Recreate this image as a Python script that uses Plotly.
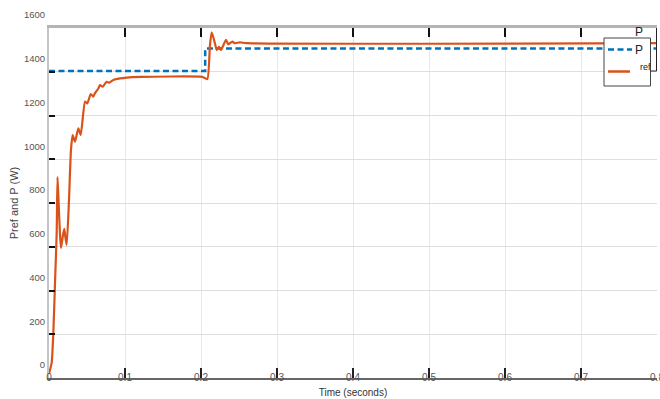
import plotly.graph_objects as go

# ---------------- data ----------------
t_p = [0.000, 0.0035, 0.0057, 0.0079, 0.0101, 0.0112, 0.0125, 0.0145, 0.0158, 0.0184,
       0.0201, 0.0217, 0.0233, 0.0263, 0.0289, 0.0311, 0.0342, 0.0386, 0.0417, 0.0474,
       0.0504, 0.0549, 0.0583, 0.0605, 0.0649, 0.0671, 0.0707, 0.0759, 0.0794, 0.0846,
       0.0934, 0.1022, 0.12, 0.2017, 0.2083, 0.2118, 0.2141, 0.2184, 0.2207, 0.2237,
       0.2263, 0.2329, 0.2359, 0.2412, 0.2447, 0.2513, 0.26, 0.8]
p = [-40, 10, 145, 375, 603, 859, 754, 594, 535, 594,
     622, 580, 549, 754, 983, 1051, 1021, 1082, 1051, 1204,
     1196, 1239, 1227, 1243, 1264, 1280, 1272, 1295, 1291, 1303,
     1310, 1314, 1317, 1317, 1307, 1463, 1521, 1470, 1440, 1454,
     1440, 1486, 1466, 1478, 1471, 1475, 1471, 1471]

t_ref = [0.0, 0.2055, 0.2055, 0.8]
p_ref = [1344, 1344, 1447, 1447]

x_ticks = [0, 0.1, 0.2, 0.3, 0.4, 0.5, 0.6, 0.7, 0.8]
x_ticktext = ["0", "0.1", "0.2", "0.3", "0.4", "0.5", "0.6", "0.7", "0.8"]
y_labels = [0, 200, 400, 600, 800, 1000, 1200, 1400, 1600]
grid_offset = 59.4  # gridlines in the reference sit below their labels
y_grid = [v - grid_offset for v in y_labels]
y_range = [y_grid[0], y_grid[-1]]

# ---------------- layout helpers ----------------
L, R, T, B = 49, 3, 28, 21
W, H = 660, 399
PW, PH = W - L - R, H - T - B


def px_x(px):
    return (px - L) / PW


def px_y(py):
    return (H - B - py) / PH


fig = go.Figure()
fig.add_trace(go.Scatter(x=t_ref, y=p_ref, mode="lines", name="P_ref",
                         line=dict(color="#0072BD", width=2.5, dash="6px,3.5px")))
fig.add_trace(go.Scatter(x=t_p, y=p, mode="lines", name="P",
                         line=dict(color="#D95319", width=2.2, shape="spline", smoothing=0.5)))
fig.add_trace(go.Scatter(x=[None], y=[None], xaxis="x2", showlegend=False, hoverinfo="skip"))

shapes = [
    # legend box
    dict(type="rect", xref="paper", yref="paper", x0=px_x(604), x1=px_x(650.5),
         y0=px_y(86), y1=px_y(38), line=dict(color="#444", width=1), fillcolor="white", layer="above"),
    dict(type="line", xref="paper", yref="paper", x0=px_x(608), x1=px_x(632),
         y0=px_y(49.5), y1=px_y(49.5), line=dict(color="#0072BD", width=2.5, dash="6px,3.5px"), layer="above"),
    dict(type="line", xref="paper", yref="paper", x0=px_x(608), x1=px_x(630),
         y0=px_y(71.5), y1=px_y(71.5), line=dict(color="#D95319", width=2.5), layer="above"),
    # bracket on the right edge
    dict(type="line", xref="paper", yref="paper", x0=px_x(656.5), x1=px_x(656.5),
         y0=px_y(28), y1=px_y(71), line=dict(color="#222", width=1), layer="above"),
    dict(type="line", xref="paper", yref="paper", x0=px_x(650.5), x1=px_x(656.5),
         y0=px_y(71), y1=px_y(71), line=dict(color="#222", width=1), layer="above"),
]

annotations = [
    dict(text="P", xref="paper", yref="paper", x=px_x(639), y=px_y(50), showarrow=False,
         font=dict(size=12, color="#222"), xanchor="center", yanchor="middle"),
    dict(text="ref", xref="paper", yref="paper", x=px_x(645), y=px_y(67), showarrow=False,
         font=dict(size=9, color="#222"), xanchor="center", yanchor="middle"),
    dict(text="P", xref="paper", yref="paper", x=px_x(639), y=px_y(32), showarrow=False,
         font=dict(size=12, color="#222"), xanchor="center", yanchor="middle"),
]

fig.update_layout(
    width=W, height=H, autosize=False,
    margin=dict(l=L, r=R, t=T, b=B, pad=0),
    paper_bgcolor="white", plot_bgcolor="white",
    font=dict(family="Liberation Sans Narrow, Arial, Liberation Sans, sans-serif", color="#555"),
    showlegend=False,
    shapes=shapes, annotations=annotations,
    xaxis=dict(range=[0, 0.8], tickmode="array", tickvals=x_ticks, ticktext=x_ticktext,
               automargin=False, ticklabeloverflow="allow",
               showgrid=True, gridcolor="#e8e8e8", gridwidth=1, zeroline=False,
               ticks="inside", ticklen=10, tickwidth=1.5, tickcolor="#222",
               showline=True, linecolor="#666", linewidth=1.5,
               tickfont=dict(size=10, color="#555"), ticklabelstandoff=-11,
               title=dict(text="Time (seconds)", font=dict(size=10, color="#333"), standoff=7)),
    xaxis2=dict(range=[0, 0.8], overlaying="x", side="top", anchor="y",
                automargin=False,
                tickmode="array", tickvals=x_ticks, showticklabels=False,
                showgrid=False, zeroline=False,
                ticks="inside", ticklen=9, tickwidth=1.5, tickcolor="#111",
                showline=True, linecolor="#b4b4b4", linewidth=2.5),
    yaxis=dict(range=y_range, tickmode="array", tickvals=y_grid, ticktext=[str(v) for v in y_labels],
               automargin=False, ticklabeloverflow="allow",
               ticklabelshift=-13,
               showgrid=True, gridcolor="#dedede", gridwidth=1, zeroline=False,
               ticks="inside", ticklen=6, tickwidth=1.5, tickcolor="#111",
               showline=True, linecolor="#c4c4c4", linewidth=2,
               tickfont=dict(size=9.5, color="#555"),
               title=dict(text="Pref and P (W)", font=dict(size=11, color="#444"), standoff=3)),
)

fig.write_html(
    "out.html",
    config={"displayModeBar": False},
    post_script="document.body.style.margin='0px';document.body.style.overflow='hidden';",
)
